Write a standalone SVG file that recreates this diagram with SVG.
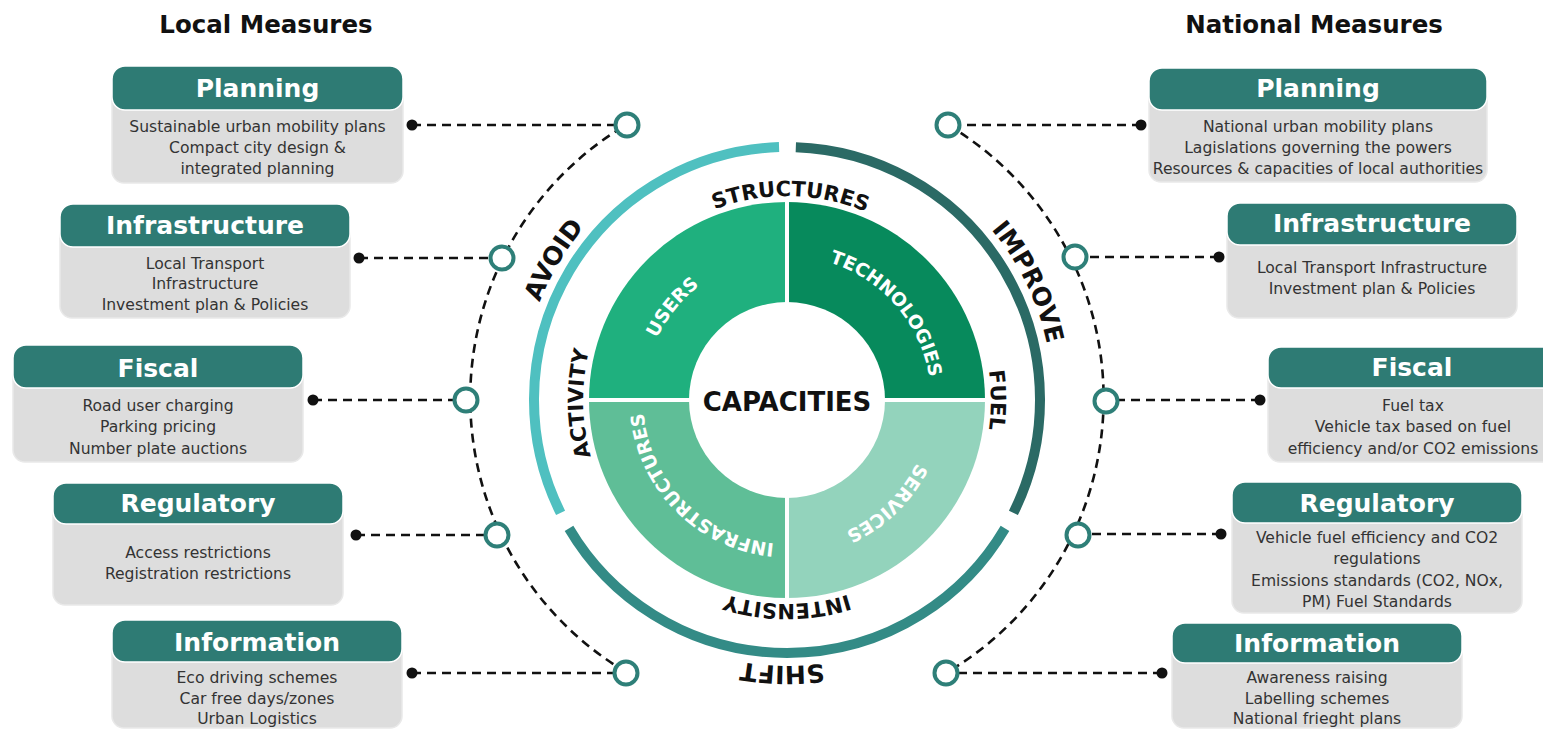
<svg xmlns="http://www.w3.org/2000/svg" width="1543" height="730" viewBox="0 0 1543 730">
<style>
.hdr{fill:#2e7b74;stroke:#ffffff;stroke-width:1.5}
.body{fill:#dddddd;stroke:#e9e9e9;stroke-width:1.5}
.ttl{font-family:"DejaVu Sans",Verdana,sans-serif;font-weight:bold;font-size:25px;fill:#ffffff;text-anchor:middle}
.txt{font-family:"DejaVu Sans",Verdana,sans-serif;font-size:15.6px;fill:#333333;text-anchor:middle}
.head{font-family:"DejaVu Sans",Verdana,sans-serif;font-weight:bold;font-size:24.5px;fill:#111111;text-anchor:middle}
.dash{fill:none;stroke:#111111;stroke-width:2.6;stroke-dasharray:9 6}
.dot{fill:#111111}
.ring{fill:#ffffff;stroke:#2e7f78;stroke-width:4}
.lbl{font-family:"DejaVu Sans",Verdana,sans-serif;font-weight:bold;fill:#111111;text-anchor:middle}
.inner{font-size:21px}
.outer{font-size:25px}
.quad{font-family:"DejaVu Sans",Verdana,sans-serif;font-weight:bold;font-size:18.5px;fill:#ffffff;text-anchor:middle}
.arc{fill:none;stroke-width:10}
</style>
<defs>
<path id="p-structures" d="M584.12,378.68 A204,204 0 0 1 990.50,385.77"/>
<path id="p-fuel" d="M804.78,196.78 A204,204 0 0 1 804.78,603.22"/>
<path id="p-intensity" d="M990.22,417.78 A204,204 0 0 1 583.78,417.78"/>
<path id="p-activity" d="M772.77,603.50 A204,204 0 0 1 765.68,197.12"/>
<path id="p-avoid" d="M630.65,615.20 A266,266 0 0 1 903.61,160.92"/>
<path id="p-improve" d="M691.67,151.67 A266,266 0 0 1 924.00,628.01"/>
<path id="p-shift" d="M1051.54,427.80 A266,266 0 0 1 521.65,418.56"/>
<path id="p-users" d="M686.97,503.58 A144,144 0 0 1 867.52,280.62"/>
<path id="p-tech" d="M702.36,283.50 A144,144 0 0 1 890.58,500.03"/>
<path id="p-services" d="M898.91,309.38 A144,144 0 0 1 692.53,508.68"/>
<path id="p-infra" d="M879.56,510.31 A144,144 0 0 1 676.69,307.44"/>
</defs>
<rect x="0" y="0" width="1543" height="730" fill="#ffffff"/>

<text class="head" x="266" y="33">Local Measures</text>
<text class="head" x="1314" y="33">National Measures</text>

<g id="wheel">
<path d="M787,400 L589,400 A198,198 0 0 1 787,202 Z" fill="#1fb07e"/>
<path d="M787,400 L787,202 A198,198 0 0 1 985,400 Z" fill="#078a5c"/>
<path d="M787,400 L985,400 A198,198 0 0 1 787,598 Z" fill="#93d3bc"/>
<path d="M787,400 L787,598 A198,198 0 0 1 589,400 Z" fill="#5fbe97"/>
<path d="M586,400 H988 M787,199 V601" stroke="#ffffff" stroke-width="4"/>
<circle cx="787" cy="400" r="98" fill="#ffffff"/>
<text class="lbl" x="787" y="411" font-size="26">CAPACITIES</text>
<text class="quad"><textPath href="#p-users" startOffset="50%">USERS</textPath></text>
<text class="quad"><textPath href="#p-tech" startOffset="50%">TECHNOLOGIES</textPath></text>
<text class="quad"><textPath href="#p-services" startOffset="50%">SERVICES</textPath></text>
<text class="quad"><textPath href="#p-infra" startOffset="50%">INFRASTRUCTURES</textPath></text>
</g>

<g id="arcs">
<path class="arc" stroke="#4fc0c0" d="M560.58,512.89 A253,253 0 0 1 779.05,147.12"/>
<path class="arc" stroke="#2b6a65" d="M795.83,147.15 A253,253 0 0 1 1013.42,512.89"/>
<path class="arc" stroke="#338b86" d="M1004.99,528.41 A253,253 0 0 1 569.01,528.41"/>
<text class="lbl inner"><textPath href="#p-structures" startOffset="50%">STRUCTURES</textPath></text>
<text class="lbl inner"><textPath href="#p-fuel" startOffset="50%">FUEL</textPath></text>
<text class="lbl inner"><textPath href="#p-intensity" startOffset="50%">INTENSITY</textPath></text>
<text class="lbl inner"><textPath href="#p-activity" startOffset="50%">ACTIVITY</textPath></text>
<text class="lbl outer"><textPath href="#p-avoid" startOffset="50%">AVOID</textPath></text>
<text class="lbl outer"><textPath href="#p-improve" startOffset="50%">IMPROVE</textPath></text>
<text class="lbl outer"><textPath href="#p-shift" startOffset="50%">SHIFT</textPath></text>
</g>

<g id="connectors">
<path class="dash" d="M626,672 A318,318 0 0 1 626,125"/>
<path class="dash" d="M948,125 A318,318 0 0 1 946,673"/>
<path class="dash" d="M412,125 H627 M359,258 H502 M313,400 H466 M356,535 H497 M412,673 H626"/>
<path class="dash" d="M1141,125 H948 M1219,257 H1075 M1260,400 H1106 M1221,534 H1078 M1162,673 H946"/>
<circle class="dot" cx="412" cy="125" r="5.5"/>
<circle class="dot" cx="359" cy="258" r="5.5"/>
<circle class="dot" cx="313" cy="400" r="5.5"/>
<circle class="dot" cx="356" cy="535" r="5.5"/>
<circle class="dot" cx="412" cy="673" r="5.5"/>
<circle class="dot" cx="1141" cy="125" r="5.5"/>
<circle class="dot" cx="1219" cy="257" r="5.5"/>
<circle class="dot" cx="1260" cy="400" r="5.5"/>
<circle class="dot" cx="1221" cy="534" r="5.5"/>
<circle class="dot" cx="1162" cy="673" r="5.5"/>
<circle class="ring" cx="627" cy="125" r="11.5"/>
<circle class="ring" cx="502" cy="258" r="11.5"/>
<circle class="ring" cx="466" cy="400" r="11.5"/>
<circle class="ring" cx="497" cy="535" r="11.5"/>
<circle class="ring" cx="626" cy="673" r="11.5"/>
<circle class="ring" cx="948" cy="125" r="11.5"/>
<circle class="ring" cx="1075" cy="257" r="11.5"/>
<circle class="ring" cx="1106" cy="401" r="11.5"/>
<circle class="ring" cx="1078" cy="535" r="11.5"/>
<circle class="ring" cx="946" cy="673" r="11.5"/>
</g>

<g id="local-planning">
<rect class="body" x="112" y="86" width="291" height="97" rx="12"/>
<rect class="hdr" x="112" y="66" width="291" height="44" rx="13"/>
<text class="ttl" x="257.5" y="97">Planning</text>
<text class="txt" x="257.5" y="131.5">Sustainable urban mobility plans</text>
<text class="txt" x="257.5" y="152.5">Compact city design &amp;</text>
<text class="txt" x="257.5" y="173.5">integrated planning</text>
</g>
<g id="local-infrastructure">
<rect class="body" x="60" y="224" width="290" height="94" rx="12"/>
<rect class="hdr" x="60" y="204" width="290" height="43" rx="13"/>
<text class="ttl" x="205" y="234">Infrastructure</text>
<text class="txt" x="205" y="268.5">Local Transport</text>
<text class="txt" x="205" y="289">Infrastructure</text>
<text class="txt" x="205" y="309.5">Investment plan &amp; Policies</text>
</g>
<g id="local-fiscal">
<rect class="body" x="13" y="365" width="290" height="97" rx="12"/>
<rect class="hdr" x="13" y="345" width="290" height="43" rx="13"/>
<text class="ttl" x="158" y="377">Fiscal</text>
<text class="txt" x="158" y="410.5">Road user charging</text>
<text class="txt" x="158" y="432">Parking pricing</text>
<text class="txt" x="158" y="453.5">Number plate auctions</text>
</g>
<g id="local-regulatory">
<rect class="body" x="53" y="503" width="290" height="102" rx="12"/>
<rect class="hdr" x="53" y="483" width="290" height="41" rx="13"/>
<text class="ttl" x="198" y="512">Regulatory</text>
<text class="txt" x="198" y="557.5">Access restrictions</text>
<text class="txt" x="198" y="578.5">Registration restrictions</text>
</g>
<g id="local-information">
<rect class="body" x="112" y="640" width="290" height="88" rx="12"/>
<rect class="hdr" x="112" y="620" width="290" height="42" rx="13"/>
<text class="ttl" x="257" y="651">Information</text>
<text class="txt" x="257" y="682.5">Eco driving schemes</text>
<text class="txt" x="257" y="703.5">Car free days/zones</text>
<text class="txt" x="257" y="723.5">Urban Logistics</text>
</g>

<g id="national-planning">
<rect class="body" x="1149" y="88" width="338" height="94" rx="12"/>
<rect class="hdr" x="1149" y="68" width="338" height="42" rx="13"/>
<text class="ttl" x="1318" y="97">Planning</text>
<text class="txt" x="1318" y="131.5">National urban mobility plans</text>
<text class="txt" x="1318" y="152.5">Lagislations governing the powers</text>
<text class="txt" x="1318" y="173.5">Resources &amp; capacities of local authorities</text>
</g>
<g id="national-infrastructure">
<rect class="body" x="1227" y="223" width="290" height="95" rx="12"/>
<rect class="hdr" x="1227" y="203" width="290" height="42" rx="13"/>
<text class="ttl" x="1372" y="232">Infrastructure</text>
<text class="txt" x="1372" y="272.5">Local Transport Infrastructure</text>
<text class="txt" x="1372" y="293.5">Investment plan &amp; Policies</text>
</g>
<g id="national-fiscal">
<rect class="body" x="1268" y="367" width="290" height="95" rx="12"/>
<rect class="hdr" x="1268" y="347" width="290" height="41" rx="13"/>
<text class="ttl" x="1412" y="376">Fiscal</text>
<text class="txt" x="1413" y="410.5">Fuel tax</text>
<text class="txt" x="1413" y="432">Vehicle tax based on fuel</text>
<text class="txt" x="1413" y="453.5">efficiency and/or CO2 emissions</text>
</g>
<g id="national-regulatory">
<rect class="body" x="1232" y="502" width="290" height="111" rx="12"/>
<rect class="hdr" x="1232" y="482" width="290" height="41" rx="13"/>
<text class="ttl" x="1377" y="512">Regulatory</text>
<text class="txt" x="1377" y="542.5">Vehicle fuel efficiency and CO2</text>
<text class="txt" x="1377" y="564">regulations</text>
<text class="txt" x="1377" y="585.5">Emissions standards (CO2, NOx,</text>
<text class="txt" x="1377" y="607">PM) Fuel Standards</text>
</g>
<g id="national-information">
<rect class="body" x="1172" y="643" width="290" height="85" rx="12"/>
<rect class="hdr" x="1172" y="623" width="290" height="40" rx="13"/>
<text class="ttl" x="1317" y="652">Information</text>
<text class="txt" x="1317" y="682.5">Awareness raising</text>
<text class="txt" x="1317" y="703.5">Labelling schemes</text>
<text class="txt" x="1317" y="723.5">National frieght plans</text>
</g>
</svg>
